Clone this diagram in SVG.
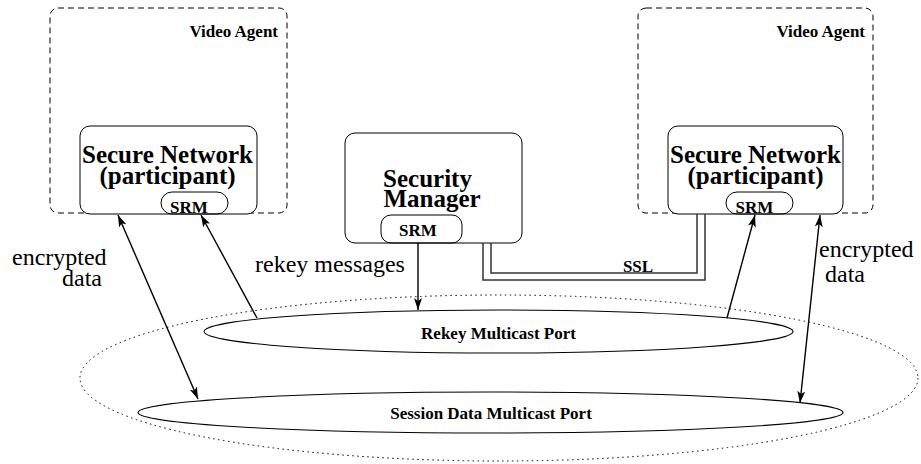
<svg xmlns="http://www.w3.org/2000/svg" width="921" height="464" viewBox="0 0 921 464">
<style>
.dash{fill:none;stroke:#000;stroke-width:1;stroke-dasharray:6 4}
.box{fill:#fff;stroke:#000;stroke-width:1}
.pill{fill:none;stroke:#000;stroke-width:1}
.ell{fill:none;stroke:#000;stroke-width:1.1}
.dot{fill:none;stroke:#000;stroke-width:1;stroke-dasharray:1.5 3.5}
.b{font-family:"Liberation Serif",serif;font-weight:bold;fill:#000}
.r{font-family:"Liberation Serif",serif;fill:#000;font-size:24px}
.lbl{font-size:17px}
.big{font-size:25px}
.arr{fill:none;stroke:#000;stroke-width:1.4}
.ssl{fill:none;stroke:#333;stroke-width:1.5}
</style>
<defs>
<marker id="ah" viewBox="0 0 12 8" refX="12" refY="4" markerWidth="12" markerHeight="8" markerUnits="userSpaceOnUse" orient="auto-start-reverse">
<path d="M0,0 L12,4 L0,8 L3,4 Z" fill="#000"/>
</marker>
</defs>
<g id="multicast-area">
<ellipse class="dot" cx="499" cy="378" rx="419" ry="83"/>
</g>
<g id="video-agent-left">
<rect class="dash" x="50" y="8" width="237" height="205" rx="8"/>
<text class="b lbl" x="278" y="37" text-anchor="end">Video Agent</text>
</g>
<g id="video-agent-right">
<rect class="dash" x="638" y="8" width="235" height="205" rx="8"/>
<text class="b lbl" x="865" y="37" text-anchor="end">Video Agent</text>
</g>
<g id="secure-network-left">
<rect class="box" x="80" y="126" width="177" height="88" rx="10"/>
<text class="b big" x="167.5" y="163" text-anchor="middle">Secure Network</text>
<text class="b big" x="167.5" y="184" text-anchor="middle">(participant)</text>
<rect class="pill" x="161" y="192" width="67" height="22" rx="11"/>
<text class="b lbl" x="189" y="213" text-anchor="middle">SRM</text>
</g>
<g id="secure-network-right">
<rect class="box" x="668" y="126" width="175" height="88" rx="10"/>
<text class="b big" x="755.5" y="163" text-anchor="middle">Secure Network</text>
<text class="b big" x="755.5" y="184" text-anchor="middle">(participant)</text>
<rect class="pill" x="726" y="192" width="67" height="22" rx="11"/>
<text class="b lbl" x="754.5" y="213" text-anchor="middle">SRM</text>
</g>
<g id="security-manager">
<rect class="box" x="345" y="133" width="177" height="110" rx="10"/>
<text class="b" font-size="25" x="427.5" y="187" text-anchor="middle">Security</text>
<text class="b" font-size="25" x="432" y="207" text-anchor="middle">Manager</text>
<rect class="pill" x="381" y="215" width="81" height="28" rx="10"/>
<text class="b lbl" x="418" y="236" text-anchor="middle">SRM</text>
</g>
<g id="rekey-port">
<ellipse class="ell" cx="498.5" cy="331.5" rx="294.5" ry="21.5"/>
<text class="b lbl" x="498.5" y="339" text-anchor="middle">Rekey Multicast Port</text>
</g>
<g id="session-port">
<ellipse class="ell" cx="490.5" cy="412.5" rx="352.5" ry="20.5"/>
<text class="b lbl" x="491" y="419" text-anchor="middle">Session Data Multicast Port</text>
</g>
<g id="connectors">
<line class="arr" x1="418" y1="243" x2="418" y2="310" marker-end="url(#ah)"/>
<line class="arr" x1="118" y1="215" x2="198" y2="399" marker-start="url(#ah)" marker-end="url(#ah)"/>
<line class="arr" x1="257" y1="318" x2="201" y2="215" marker-end="url(#ah)"/>
<line class="arr" x1="727" y1="318" x2="755" y2="215" marker-end="url(#ah)"/>
<line class="arr" x1="820" y1="215" x2="800" y2="403" marker-start="url(#ah)" marker-end="url(#ah)"/>
<polyline class="ssl" points="483,243 483,280 705,280 705,214"/>
<polyline class="ssl" points="491,243 491,273 697,273 697,214"/>
<text class="b lbl" x="638" y="272" text-anchor="middle">SSL</text>
<text class="r" x="255" y="272">rekey messages</text>
<text class="r" x="12" y="265">encrypted</text>
<text class="r" x="62" y="286">data</text>
<text class="r" x="819" y="257">encrypted</text>
<text class="r" x="825" y="282">data</text>
</g>
</svg>
